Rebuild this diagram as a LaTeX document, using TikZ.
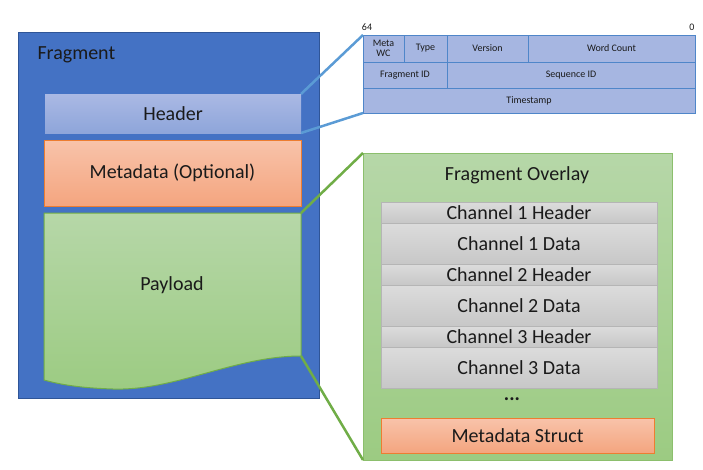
\documentclass[tikz,border=0pt]{standalone}
\usepackage{fontspec}
\setmainfont{Carlito}
\usetikzlibrary{positioning}

\definecolor{fragblue}{HTML}{4472C4}
\definecolor{fragedge}{HTML}{2F5597}
\definecolor{hdrtop}{HTML}{AAB9E4}
\definecolor{hdrbot}{HTML}{8EA5DA}
\definecolor{metatop}{HTML}{F8C3AA}
\definecolor{metabot}{HTML}{F4A57F}
\definecolor{metaedge}{HTML}{ED7D31}
\definecolor{greentop}{HTML}{B6D7A8}
\definecolor{greenbot}{HTML}{9CCB82}
\definecolor{greenedge}{HTML}{70AD47}
\definecolor{ovledge}{HTML}{8CBF6D}
\definecolor{chantop}{HTML}{DCDCDC}
\definecolor{chanbot}{HTML}{C7C7C7}
\definecolor{chanedge}{HTML}{B5B5B5}
\definecolor{cellfill}{HTML}{A6B6E1}
\definecolor{celledge}{HTML}{4F86C9}
\definecolor{linkblue}{HTML}{5B9BD5}
\definecolor{txt}{HTML}{1A1A1A}

\begin{document}
\begin{tikzpicture}[x=1pt, y=-1pt,
    box/.style={%
      rectangle, line width=1pt, inner sep=0pt, outer sep=0pt,
      anchor=north west, align=center, text=txt
    },
    big/.style={font=\fontsize{20}{22}\selectfont, text=txt},
    cell/.style={%
      box, draw=celledge, fill=cellfill, line width=0.8pt,
      font=\fontsize{10}{10.5}\selectfont
    },
    chanhdr/.style={%
      box, big, draw=chanedge, top color=chantop, bottom color=chanbot,
      minimum width=276, minimum height=21
    },
    chandata/.style={%
      box, big, draw=chanedge, top color=chantop, bottom color=chanbot,
      minimum width=276, minimum height=41
    },
    bluelink/.style={draw=linkblue, line width=2.5pt},
    greenlink/.style={draw=greenedge, line width=2.5pt}
]
    \useasboundingbox (0,0) rectangle (703,469);

    % fragment
    \node[box, draw=fragedge, fill=fragblue, minimum width=301, minimum height=366] (frag) at (18,32) {};
    \node[big, anchor=west] (fraglbl) at (34,55) {Fragment};
    \node[box, big, top color=hdrtop, bottom color=hdrbot, minimum width=256, minimum height=39] (hdr) at (45,94) {Header};
    \node[box, big, draw=metaedge, top color=metatop, bottom color=metabot, minimum width=257, minimum height=66] (meta) at (44,140) {Metadata (Optional)};

    % payload
    \coordinate (plnw) at (44,213);
    \coordinate (plne) at (301,213);
    \coordinate (plse) at (301,356);
    \coordinate (plsw) at (44,380);
    \path[draw=greenedge, line width=1pt, top color=greentop, bottom color=greenbot]
      (plnw) -- (plne) -- (plse)
      .. controls (235,356) and (175,391) .. (113,389)
      .. controls (82,388) and (62,385) .. (plsw) -- cycle;
    \node[big] (payload) at (172,285) {Payload};

    % header layout
    \node[font=\fontsize{10}{10}\selectfont, text=txt] (bit64) at (367,27) {64};
    \node[font=\fontsize{10}{10}\selectfont, text=txt] (bit0) at (692,27) {0};
    \node[cell, minimum width=41, minimum height=27] (mwc) at (363,35) {Meta\\WC};
    \node[cell, minimum width=43, minimum height=27] (type) [right=0pt of mwc] {Type};
    \node[cell, minimum width=81, minimum height=27] (ver) [right=0pt of type] {Version};
    \node[cell, minimum width=167, minimum height=27] (wc) [right=0pt of ver] {Word Count};
    \node[cell, minimum width=84, minimum height=26] (fid) at (363,62) {Fragment ID};
    \node[cell, minimum width=248, minimum height=26] (sid) [right=0pt of fid] {Sequence ID};
    \node[cell, minimum width=332, minimum height=25] (ts) at (363,88) {Timestamp};

    \draw[bluelink] (hdr.north east) -- (mwc.north west);
    \draw[bluelink] (hdr.south east) -- (ts.south west);

    % overlay
    \node[box, draw=ovledge, top color=greentop, bottom color=greenbot, minimum width=309, minimum height=307] (ovl) at (363,153) {};
    \node[big] (ovllbl) at (517,175) {Fragment Overlay};
    \node[chanhdr] (c1h) at (381,202) {Channel 1 Header};
    \node[chandata] (c1d) [below=0pt of c1h] {Channel 1 Data};
    \node[chanhdr] (c2h) [below=0pt of c1d] {Channel 2 Header};
    \node[chandata] (c2d) [below=0pt of c2h] {Channel 2 Data};
    \node[chanhdr] (c3h) [below=0pt of c2d] {Channel 3 Header};
    \node[chandata] (c3d) [below=0pt of c3h] {Channel 3 Data};
    \node[big] (dots) at (512,399) {\textbf{...}};
    \node[box, big, draw=metaedge, top color=metatop, bottom color=metabot, minimum width=273, minimum height=35] (mstruct) at (381,418) {Metadata Struct};

    \draw[greenlink] (plne) -- (ovl.north west);
    \draw[greenlink] (plse) -- (ovl.south west);
\end{tikzpicture}
\end{document}
